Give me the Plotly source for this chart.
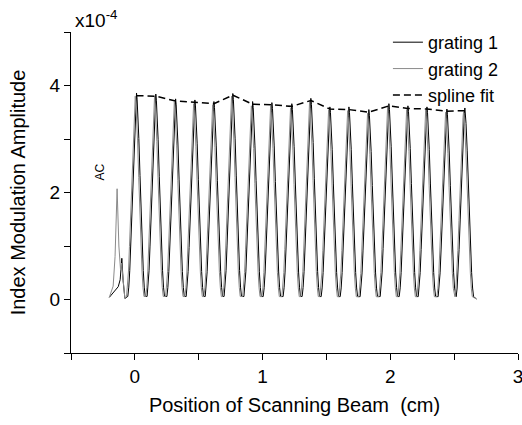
import plotly.graph_objects as go

# ---- data ----
# peak centres (cm) and spline-fit amplitudes (x1e-4)
peak_x = [0.013, 0.164, 0.319, 0.470, 0.619, 0.767, 0.922, 1.073, 1.229,
          1.378, 1.527, 1.676, 1.832, 1.989, 2.138, 2.287, 2.443, 2.584]
spline_y = [3.81, 3.80, 3.71, 3.68, 3.66, 3.82, 3.65, 3.64, 3.61,
            3.72, 3.56, 3.55, 3.50, 3.62, 3.57, 3.56, 3.52, 3.53]
g1_peak = [3.86, 3.84, 3.75, 3.73, 3.70, 3.85, 3.70, 3.68, 3.66,
           3.76, 3.60, 3.60, 3.55, 3.66, 3.62, 3.60, 3.56, 3.58]
g2_peak = [3.80, 3.79, 3.70, 3.66, 3.64, 3.80, 3.62, 3.62, 3.58,
           3.70, 3.54, 3.53, 3.48, 3.60, 3.55, 3.54, 3.50, 3.51]
# single-period profile (offset in periods from peak, relative amplitude)
prof_off = [0.0, 0.03, 0.06, 0.12, 0.18, 0.24, 0.30, 0.35, 0.40, 0.45, 0.5]
prof_val = [1.0, 0.97, 0.92, 0.78, 0.60, 0.42, 0.26, 0.14, 0.06, 0.015, 0.0]
period = 0.1513
# AC region (before the gratings)
ac1_x = [-0.200, -0.170, -0.130, -0.115, -0.102, -0.092, -0.078]
ac1_y = [0.04, 0.12, 0.24, 0.37, 0.77, 0.35, 0.02]
ac2_x = [-0.200, -0.170, -0.155, -0.139, -0.125, -0.112, -0.104, -0.092, -0.078]
ac2_y = [0.04, 0.25, 0.80, 2.07, 1.00, 0.55, 0.68, 0.30, 0.02]
tail_x = [2.675]
tail_y = [0.01]

x_tickvals = [0, 1, 2, 3]
x_ticktext = ["0", "1", "2", "3"]
y_tickvals = [0, 2, 4]
y_ticktext = ["0", "2", "4"]


def build(peaks, shift):
    xs, ys = [], []
    for c, h in zip(peak_x, peaks):
        c = c + shift
        for o, v in zip(prof_off[::-1], prof_val[::-1]):
            if o == 0.5:
                continue
            xs.append(c - o * period); ys.append(h * v)
        for o, v in zip(prof_off[1:], prof_val[1:]):
            if o == 0.5:
                continue
            xs.append(c + o * period); ys.append(h * v)
    return xs, ys


g1x, g1y = build(g1_peak, 0.0)
g2x, g2y = build(g2_peak, -0.010)
g1x = ac1_x + g1x + tail_x
g1y = ac1_y + g1y + tail_y
g2x = ac2_x + g2x + tail_x
g2y = ac2_y + g2y + tail_y

FONT = "Liberation Sans, Arial, sans-serif"

fig = go.Figure()
fig.add_trace(go.Scatter(x=g1x, y=g1y, mode="lines", name="grating 1",
                         line=dict(color="#000000", width=1)))
fig.add_trace(go.Scatter(x=g2x, y=g2y, mode="lines", name="grating 2",
                         line=dict(color="#8a8a8a", width=1)))
fig.add_trace(go.Scatter(x=peak_x, y=spline_y, mode="lines", name="spline fit",
                         line=dict(color="#000000", width=1.5, dash="7px,4px")))

fig.add_annotation(x=-0.274, y=2.39, text="AC", textangle=-90, showarrow=False,
                   font=dict(family=FONT, size=12, color="black"))
fig.add_annotation(xref="paper", yref="paper", x=0.005, y=1.04, xanchor="left",
                   yanchor="middle", text="x10<sup>-4</sup>", showarrow=False,
                   font=dict(family=FONT, size=19, color="black"))

axis_common = dict(showline=True, linecolor="black", linewidth=1.2, ticks="outside",
                   ticklen=6, tickwidth=1.2, tickcolor="black", showgrid=False,
                   zeroline=False, automargin=False, ticklabeloverflow="allow",
                   tickfont=dict(family=FONT, size=19, color="black"))

fig.update_layout(
    width=522, height=425,
    margin=dict(l=71, r=4, t=32, b=72),
    paper_bgcolor="white", plot_bgcolor="white",
    font=dict(family=FONT, color="black"),
    xaxis=dict(range=[-0.5, 3], tickmode="array", tickvals=x_tickvals, ticktext=x_ticktext,
               minor=dict(tickmode="array", tickvals=[-0.5, 0.5, 1.5, 2.5], ticks="outside",
                          ticklen=6, tickwidth=1.2, tickcolor="black", showgrid=False),
               title=dict(text="Position of Scanning Beam&nbsp;&nbsp;(cm)",
                          font=dict(family=FONT, size=20), standoff=12),
               **axis_common),
    yaxis=dict(range=[-1, 5], tickmode="array", tickvals=y_tickvals, ticktext=y_ticktext,
               minor=dict(tickmode="array", tickvals=[-1, 1, 3, 5], ticks="outside",
                          ticklen=6, tickwidth=1.2, tickcolor="black", showgrid=False),
               title=dict(text="Index Modulation Amplitude",
                          font=dict(family=FONT, size=20), standoff=18),
               **axis_common),
    legend=dict(x=0.709, y=1.025, xanchor="left", yanchor="top", bgcolor="rgba(0,0,0,0)",
                font=dict(family=FONT, size=18)),
    showlegend=True,
)

fig.write_html("out.html")
